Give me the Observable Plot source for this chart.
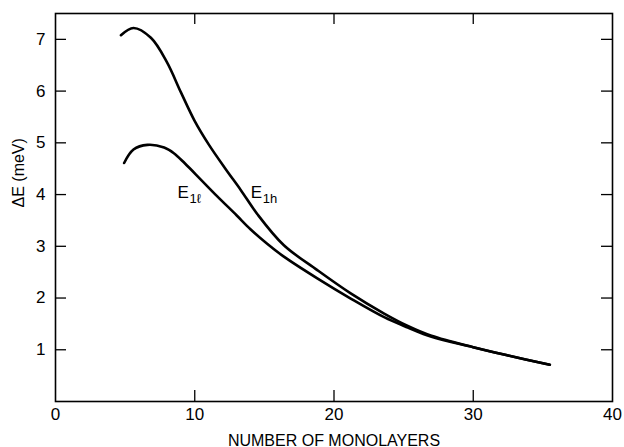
<!DOCTYPE html>
<html>
<head>
<meta charset="utf-8">
<script src="https://cdn.jsdelivr.net/npm/d3@7"></script>
<script src="https://cdn.jsdelivr.net/npm/@observablehq/plot@0.6"></script>
<style>
  html, body { margin: 0; padding: 0; background: #fff; }
  #chart { width: 624px; height: 447px; }
</style>
</head>
<body>
<div id="chart"></div>
<script>
// E1h curve (heavy-hole)
const e1hX = [4.7, 5.6, 6.85, 8.0, 9.0, 10.0, 11.0, 12.2, 13.3, 14.5, 16.4, 18.8, 21.2, 23.6, 25.3, 27.0, 30.0, 32.5, 35.5];
const e1hY = [7.08, 7.22, 7.03, 6.56, 5.98, 5.42, 4.97, 4.50, 4.09, 3.62, 3.02, 2.54, 2.09, 1.70, 1.46, 1.27, 1.05, 0.89, 0.71];
// E1l curve (light-hole)
const e1lX = [4.93, 5.6, 6.6, 7.8, 8.5, 9.3, 10.4, 11.6, 13.0, 14.0, 15.2, 16.4, 18.8, 21.2, 23.6, 25.3, 27.0, 30.0, 32.5, 35.5];
const e1lY = [4.61, 4.87, 4.96, 4.91, 4.80, 4.60, 4.30, 3.97, 3.60, 3.33, 3.05, 2.80, 2.38, 1.99, 1.63, 1.43, 1.25, 1.05, 0.89, 0.71];

const xTicks = [0, 10, 20, 30, 40];
const xInnerTicks = [10, 20, 30];
const yTicks = [1, 2, 3, 4, 5, 6, 7];

const curveLabels = [
  {name: "E", sub: "1ℓ", x: 8.76, y: 3.94},
  {name: "E", sub: "1h", x: 14.02, y: 3.94}
];

const rows = [
  ...e1hX.map((x, i) => ({series: "E1h", x, y: e1hY[i]})),
  ...e1lX.map((x, i) => ({series: "E1l", x, y: e1lY[i]}))
];

const W = 624, H = 447, mL = 55, mR = 12, mT = 13, mB = 46;
const innerW = W - mL - mR, innerH = H - mT - mB, tickLen = 11;

const chart = Plot.plot({
  width: W,
  height: H,
  marginLeft: mL,
  marginRight: mR,
  marginTop: mT,
  marginBottom: mB,
  style: {fontFamily: "'Liberation Sans', Arial, sans-serif", fontSize: "16px", color: "#000", background: "#fff"},
  x: {domain: [0, 40]},
  y: {domain: [0, 7.5]},
  marks: [
    Plot.frame({stroke: "#000", strokeWidth: 1.6}),
    // inward ticks on all four sides
    Plot.tickX(xInnerTicks, {x: d => d, insetTop: innerH - tickLen, stroke: "#000", strokeWidth: 1.3}),
    Plot.tickX(xInnerTicks, {x: d => d, insetBottom: innerH - tickLen, stroke: "#000", strokeWidth: 1.3}),
    Plot.tickY(yTicks, {y: d => d, insetRight: innerW - tickLen, stroke: "#000", strokeWidth: 1.3}),
    Plot.tickY(yTicks, {y: d => d, insetLeft: innerW - tickLen, stroke: "#000", strokeWidth: 1.3}),
    Plot.axisX(xTicks, {anchor: "bottom", tickSize: 0, tickPadding: 6, fontSize: 17, tickFormat: d3.format("d"), label: null}),
    Plot.axisY(yTicks, {anchor: "left", tickSize: 0, tickPadding: 10, fontSize: 17, tickFormat: d3.format("d"), label: null}),
    Plot.text(["NUMBER OF MONOLAYERS"], {frameAnchor: "bottom", dy: 44, lineAnchor: "bottom", fontSize: 16, fill: "#000", letterSpacing: "0.8px"}),
    Plot.text(["ΔE (meV)"], {frameAnchor: "left", dx: -37, rotate: -90, fontSize: 16, fill: "#000", letterSpacing: "0.8px"}),
    Plot.line(rows, {x: "x", y: "y", z: "series", curve: "catmull-rom", stroke: "#000", strokeWidth: 2.6}),
    Plot.text(curveLabels, {x: "x", y: "y", text: "name", textAnchor: "start", lineAnchor: "bottom", fontSize: 17, fill: "#000"}),
    Plot.text(curveLabels, {x: "x", y: "y", text: "sub", textAnchor: "start", lineAnchor: "bottom", dx: 12, dy: 5, fontSize: 13, fill: "#000"})
  ]
});
document.getElementById("chart").appendChild(chart);
</script>
</body>
</html>
